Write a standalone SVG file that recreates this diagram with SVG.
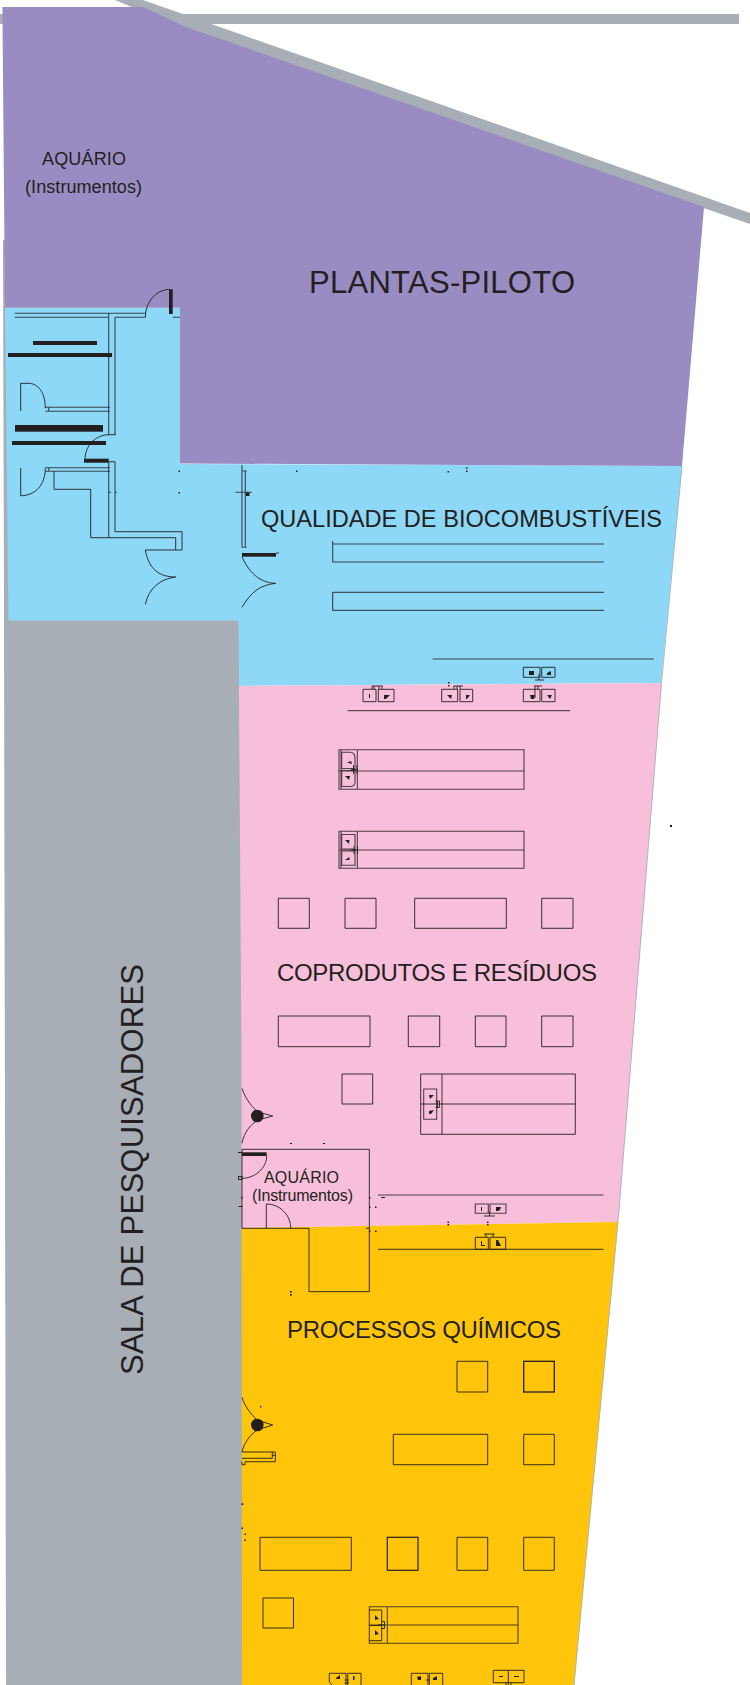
<svg xmlns="http://www.w3.org/2000/svg" width="750" height="1685" viewBox="0 0 750 1685">
<style>
text{font-family:"Liberation Sans",Arial,sans-serif;fill:#231f20}
.l{fill:none;stroke:#231f20;stroke-width:.9}
.w{fill:none;stroke:#231f20;stroke-width:1.1;stroke-opacity:.8}
.t{fill:#231f20;stroke:none}
.g{fill:#a7aeb6}
</style>
<rect width="750" height="1685" fill="#fff"/>
<g id="estrutura">
<rect class="g" x="0" y="14" width="739" height="10"/>
<polygon class="g" points="115,0 143,0 750,213 750,224 186,30"/>
<polygon class="g" points="3,240 4,621 9,621 6,240"/>
</g>
<g id="zonas">
<polygon id="z-blue" fill="#8dd7f7" points="5,308 180,308 180,464 682,466 661,683 234,686 234,622 8.500,622"/>
<polygon id="z-pink" fill="#f8bfda" points="234,686 661.500,683 618,1222 234,1228"/>
<polygon id="z-yellow" fill="#ffc50a" points="234,1228 618,1222 574,1685 234,1685"/>
<polygon id="z-purple" fill="#998cc2" points="2.400,7 143,7 186,27 704,207 682,466 180,463.500 180,307.700 5,307.700"/>
<polyline points="682,466 661.500,683 618,1222 574,1685" fill="none" stroke="#a7aeb6" stroke-width=".9"/>
<polygon id="z-gray" class="g" points="4,620.500 238.500,620.500 241.500,1060 242,1685 6,1685"/>
</g>
<g id="plantas">
<path class="w" d="M14.700,313.300H108.700V316.300M108.700,313.300H145.300M14.700,317.300H108.700M115,317.300H145.300M108.700,313.300V435M115,317.300V434.300M108.700,461.700V537.700M115,461.700V531.700M172.700,317.300H180"/>
<path class="l" d="M145.300,317.300A24.700,28 0 0 1 169,289.300"/>
<rect class="t" x="169" y="289.300" width="3.700" height="24.700"/>
<rect class="t" x="33" y="341" width="64" height="4"/>
<rect class="t" x="8" y="353" width="104" height="4"/>
<path class="l" d="M20.700,411V383.300H28C38,383.300 45.300,392 45.300,408.300"/>
<path class="w" d="M45.300,407.300H110M45.300,411.300H110M48.700,407.300V411.300"/>
<rect class="t" x="15" y="425" width="88" height="6.700"/>
<rect class="t" x="12" y="441" width="94" height="4"/>
<path class="l" d="M85,458.700A23.700,24.300 0 0 1 108.700,434.700H116"/>
<rect class="t" x="84" y="458.700" width="24.700" height="4"/>
<path class="w" d="M108.700,461.700H115"/>
<path class="l" d="M20.700,468V495.700C36,495.700 45.300,484 45.300,468.300"/>
<path class="w" d="M45.300,467.700H110M45.300,471.300H110M48.700,467.700V471.300"/>
<path class="l" d="M54,471.300V489.300H90.700V537.700H175.700V550H145.300M175.700,550H182V531.700H115"/>
<path class="l" d="M145.300,550C149,570 160,577 175.700,577C160,579 149,588 145.300,604.300"/>
<path class="w" d="M242,465V547.300M245.300,471V547.300M242,471H246.700M242,547.300H246.700M235.300,492.300H252"/>
<rect class="t" x="246" y="492.500" width="3.500" height="3.500"/>
<rect class="t" x="242" y="553" width="34" height="3.700"/>
<path class="l" d="M276,553H279M242,556.700C250,575 262,583 275.700,583.300C260,585 251,592 242,607.300"/>
<path class="w" d="M108.700,492.300H111M115,492.300H117"/>
<g class="t"><rect x="178.500" y="470.500" width="1.500" height="1.500"/><rect x="178.500" y="492" width="1.500" height="1.500"/><rect x="296" y="470.500" width="1.500" height="1.500"/><rect x="447.500" y="471" width="1.500" height="1.500"/><rect x="466" y="467.500" width="1.500" height="1.500"/><rect x="466" y="470.500" width="1.500" height="1.500"/></g>
<path class="w" d="M332.700,541V562H604M332.700,544H604"/>
<path class="l" d="M332.700,592.300V610.300H604M332.700,592.300H604"/>
<path class="w" d="M432.700,659H654"/>
</g>
<g id="pias-superiores">
<path class="l" d="M363,689.300h13v12.400h-13zM378.300,689.300h15.700v12.400h-15.700zM441.700,689.300h16v12.400h-16zM460,689.300h12.700v12.400H460zM523.300,689.300h16.700v12.400h-16.700zM541.700,689.300H555v12.400h-13.300zM523.300,667.300H540v10h-16.700zM541.700,667.300H555v10h-13.300z"/>
<path class="l" d="M372,686V689M374,686V689M372,686H382.500M379,686V689M382,686V689M454,686V689M457,686V689M453.500,686H463M460,686V689M535,686V698M538,686V689M534,686H542M539,674V680M535,680H544"/>
<g class="t"><rect x="369" y="694" width="1" height="4"/><polygon points="384,695 390,695 386,699 384,699"/><polygon points="447,695 452,695 451,699"/><polygon points="466,695 470,695 467,699 466,699"/><polygon points="530,695 535,695 534,699 531,699"/><polygon points="547,695 552,695 550,699"/><polygon points="529,671 534,671 534,675 529,675"/><polygon points="547,673 551,671 551,675 547,675"/><rect x="448" y="682" width="1.500" height="1.500"/><rect x="448" y="685" width="1.500" height="1.500"/></g>
<path class="l" d="M347.700,710.700H570"/>
</g>
<g id="mesas-rosa">
<path class="w" d="M339,749.700H524V789.300H339ZM341,749.700V789.300M357.300,749.700V789.300M339,771H524"/>
<path class="w" d="M341.700,752.300H350Q355,752.300 355,758V768.500H341.700ZM341.700,770.500H355V782Q355,786.500 350,786.500H341.700Z"/>
<path class="l" d="M351,769.500H358M353.500,765V774M357,765V774"/>
<polygon class="t" points="347,762.500 351,761 352,764"/><polygon class="t" points="345,776 350,776 349,780"/>
<path class="w" d="M339,831.300H524V868.300H339ZM341,831.300V868.300M357.300,831.300V868.300M339,850H524"/>
<path class="w" d="M341.700,834.500H355V849H341.700ZM341.700,851H355V865.300H341.700Z"/>
<path class="l" d="M351,850H358M354,846V854M357.500,846V854"/>
<polygon class="t" points="345,840 349.500,840 349,844"/><polygon class="t" points="345,860 349.500,857 349.500,860"/>
<path class="l" d="M278.300,898.300h31v30h-31zM345,898.300h31v30h-31zM414.700,898.300h91.600v30h-91.600zM541.700,898.300H573v30h-31.300zM278.300,1016H370v30.700h-91.700zM408.300,1016h31.400v30.700h-31.400zM475.300,1016H506v30.700h-30.700zM541.700,1016H573v30.700h-31.300zM342,1074h30.700v30H342z"/>
<path class="l" d="M420.700,1074H575.300V1134.300H420.700ZM442,1074V1134.300M420.700,1104H575.300"/>
<path class="w" d="M423.700,1089H436.700V1119.300H423.700Z"/>
<path class="l" d="M435.500,1101H439.500V1107.500H435.500M437.500,1101V1107.500"/>
<polygon class="t" points="429,1095 434,1095 430,1099"/><polygon class="t" points="429,1111 434,1110 431,1114 429,1114"/>
<rect class="t" x="670" y="825" width="2" height="2"/>
</g>
<g id="sala-aquario">
<circle class="t" cx="257.300" cy="1116" r="6.300"/>
<path class="l" d="M242,1088.300C246,1100 252,1107 258,1112L272.700,1116L258,1120C251,1124 244,1132 242,1143.300"/>
<path class="l" d="M242,1228.300V1149.300H369.300V1291.700H309V1228.300H242M366,1228.300H369.300"/>
<rect class="t" x="242" y="1152.300" width="24.700" height="3.700"/>
<path class="l" d="M266.700,1156C266.700,1168 255,1178.300 242,1178.300M266.300,1228.300V1204C280,1204 290.700,1215 290.700,1228.300"/>
<rect class="l" x="238.500" y="1176.500" width="3.500" height="3"/>
<g class="t"><rect x="290" y="1143" width="2" height="1"/><rect x="323" y="1143" width="2" height="1"/><rect x="290" y="1291" width="1.700" height="1.700"/><rect x="290" y="1294" width="1.700" height="1.700"/><rect x="238" y="1152" width="4" height="1"/><rect x="241" y="1197" width="1.500" height="1.500"/><rect x="238.500" y="1206" width="4" height="1"/><rect x="369" y="1197" width="1.500" height="1.500"/><rect x="369" y="1206.500" width="1.500" height="1.500"/><rect x="375" y="1206.500" width="1.500" height="1.500"/><rect x="369" y="1230.500" width="1.500" height="1.500"/><rect x="375" y="1230.500" width="1.500" height="1.500"/><rect x="381" y="1197" width="4" height="1"/><rect x="447.500" y="1221.500" width="1.500" height="1.500"/><rect x="447.500" y="1224" width="1.500" height="1.500"/><rect x="487" y="1221.500" width="1.500" height="1.500"/><rect x="487" y="1224" width="1.500" height="1.500"/></g>
<path class="w" d="M378,1195H603.300"/>
<path class="l" d="M378,1249.300H603.300"/>
<path class="w" d="M475.300,1204h13v9.300h-13zM490,1204h16v9.300h-16z"/>
<path class="l" d="M484,1216H495M489.500,1212V1216M484,1234H495M486,1234V1237M493,1234V1237M475.300,1237.300h13v12h-13zM490,1237.300h15.700v12H490z"/>
<g class="t"><rect x="481" y="1207" width="1" height="4"/><polygon points="496,1207 501,1207 500,1210 498,1211 496,1211"/><polygon points="481,1241 482,1241 482,1245 485,1245 485,1246 481,1246"/><polygon points="496,1240 498,1240 501,1246 496,1246"/></g>
</g>
<g id="quimicos">
<path class="l" d="M457,1361.300h30.700V1392H457zM393.300,1434.300h94.400v30.400h-94.400zM523.700,1434.300h30.600v30.400h-30.600zM260,1537.300h91.300v33H260zM457,1537.300h30.700v33H457zM523.700,1537.300h30.600v33h-30.600zM263,1598h30.500v30H263z"/>
<rect x="523.700" y="1361.300" width="30.600" height="30.700" fill="none" stroke="#231f20" stroke-width="1.300"/>
<rect x="387.300" y="1537.300" width="30.700" height="33" fill="none" stroke="#231f20" stroke-width="1.200"/>
<circle class="t" cx="257.300" cy="1425" r="6.300"/>
<path class="l" d="M242,1397.300C245,1407 251,1414 257,1420L272.700,1425L257,1430C250,1435 244,1443 242,1452"/>
<path class="l" d="M242,1452H275.300V1461.700H245V1464.700H242M242,1458.300H272.300V1452M272.300,1455.300H275.300M242,1461.700V1464.700"/>
<g class="t"><rect x="260" y="1406" width="1.400" height="1.400"/><rect x="241.500" y="1503.300" width="1.700" height="1.700"/><rect x="241.500" y="1527.500" width="1.500" height="1.500"/><rect x="244.500" y="1533.500" width="1.500" height="1.500"/><rect x="244.500" y="1539.500" width="1.500" height="1.500"/></g>
<path class="w" d="M369.300,1606.700H518V1643.300H369.300ZM387.300,1606.700V1643.300M369.300,1625H518"/>
<path class="l" d="M369.300,1610H381.700V1640.700H369.300M369.300,1625.500H381.700"/>
<path class="l" d="M378,1625H385M381.500,1621.500H384.500V1628.500H381.500"/>
<polygon class="t" points="375,1615 379,1619 375,1620"/><polygon class="t" points="375,1630 379,1634 375,1635"/>
<path class="l" d="M329.300,1673.300H346V1685M329.300,1673.300V1682L332,1685M347.700,1685V1673.300H361V1685M344.500,1680H349M344.500,1683H349"/>
<path class="l" d="M411.300,1673.300H428V1685M411.300,1673.300V1685M429.300,1685V1673.300H442.700V1685M426,1680H430"/>
<path class="l" d="M493.300,1670.300H524V1682.700H493.300ZM508.300,1670.300V1685M506,1682.700V1685M511,1682.700V1685"/>
<g class="t"><polygon points="336,1678 340,1675 340,1679 336,1679"/><rect x="353" y="1676" width="1.500" height="4"/><polygon points="417,1677 421,1676 421,1680 418,1680"/><polygon points="433,1678 437,1676 437,1680 433,1680"/><rect x="499" y="1676" width="4" height="1"/><rect x="514" y="1676" width="5" height="1"/></g>
</g>
<g id="rotulos">
<text x="42" y="165" font-size="18" textLength="84">AQUÁRIO</text>
<text x="25" y="193" font-size="18" textLength="117">(Instrumentos)</text>
<text x="309" y="293" font-size="31" textLength="266">PLANTAS-PILOTO</text>
<text x="261" y="526.500" font-size="23.600" textLength="401">QUALIDADE DE BIOCOMBUSTÍVEIS</text>
<text x="277" y="981" font-size="24" textLength="320">COPRODUTOS E RESÍDUOS</text>
<text x="287" y="1337.500" font-size="24" textLength="274">PROCESSOS QUÍMICOS</text>
<text x="264" y="1182.500" font-size="16" textLength="75" lengthAdjust="spacing">AQUÁRIO</text>
<text x="252" y="1200.500" font-size="16" textLength="101" lengthAdjust="spacing">(Instrumentos)</text>
<text transform="translate(143 1375) rotate(-90)" font-size="31" textLength="411">SALA DE PESQUISADORES</text>
</g>
</svg>
